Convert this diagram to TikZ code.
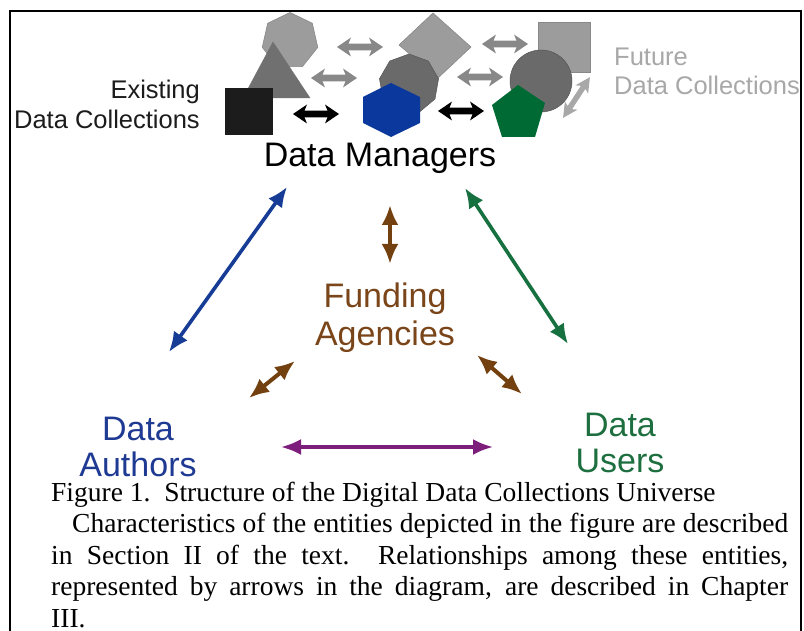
\documentclass[tikz,border=0pt]{standalone}
\usepackage{fontspec}
\setmainfont{Liberation Serif}
\newfontfamily\arialfont{Liberation Sans}
\usetikzlibrary{arrows.meta}
\definecolor{cblue}{HTML}{173C96}
\definecolor{cgreen}{HTML}{17703F}
\definecolor{cbrown}{HTML}{73400F}
\definecolor{cpurple}{HTML}{7D1E7D}
\definecolor{tblue}{HTML}{1F3A93}
\definecolor{tgreen}{HTML}{1E6F3F}
\definecolor{tbrown}{HTML}{7A4519}
\definecolor{lgray}{HTML}{9C9C9C}
\definecolor{mgray}{HTML}{707070}
\definecolor{dgray}{HTML}{6A6A6A}
\definecolor{agray}{HTML}{888888}
\definecolor{dagray}{HTML}{A8A8A8}
\definecolor{nearblack}{HTML}{1C1C1C}
\definecolor{hexblue}{HTML}{0A389C}
\definecolor{pentgreen}{HTML}{006A35}
\definecolor{futgray}{HTML}{A8A8A8}
\tikzset{
  blockarrow/.pic={\path[pic actions] (-23,0) -- (-9,-9.5) -- (-11.5,-3.4) -- (11.5,-3.4) -- (9,-9.5) -- (23,0) -- (9,9.5) -- (11.5,3.4) -- (-11.5,3.4) -- (-9,9.5) -- cycle;},
  biglabel/.style={font=\arialfont\fontsize{34}{40}\selectfont, inner sep=0pt, anchor=base},
  smalllabel/.style={font=\arialfont\fontsize{25.5}{30}\selectfont, inner sep=0pt},
  capline/.style={font=\fontsize{27.5}{31.5}\selectfont, inner sep=0pt, anchor=base west},
  relarrow/.style={line width=3.6pt, {Latex[length=20pt,width=17pt]}-{Latex[length=20pt,width=17pt]}},
}
\begin{document}
\begin{tikzpicture}[x=1pt,y=-1pt]
\useasboundingbox (0,0) rectangle (804,631);
\fill[white] (0,0) rectangle (804,631);
% frame
\draw[line width=2.3pt] (10,631) -- (10,11) -- (801,11) -- (801,631);

% shapes, left cluster
\filldraw[fill=lgray, draw=agray, line width=0.6pt, shift={(290,41)}] (90:28.5pt) \foreach \k in {1,...,6}{ -- ({90+\k*360/7}:28.5pt)} -- cycle;
\filldraw[fill=mgray, draw=mgray] (273,42) -- (310,98) -- (243,98) -- cycle;
\fill[nearblack] (225,88) rectangle (273,135);

% middle cluster
\filldraw[fill=lgray, draw=agray, line width=0.6pt] (433,13) -- (471,47) -- (438,78) -- (399,45) -- cycle;
\filldraw[fill=dgray, draw=dgray!80!black, line width=0.5pt, shift={(409,84)}] (90:30pt) \foreach \k in {1,...,8}{ -- ({90+\k*40}:30pt)} -- cycle;
\fill[hexblue] (391,83) -- (420,97) -- (420,123) -- (391,137) -- (363,123) -- (363,97) -- cycle;

% right cluster
\filldraw[fill=lgray, draw=agray, line width=0.6pt] (538,22) rectangle (590,72);
\filldraw[fill=dgray, draw=dgray!80!black, line width=0.5pt] (541,81) circle[radius=31pt];
\fill[pentgreen] (518,85) -- (545,103) -- (535,137) -- (502,137) -- (492,105) -- cycle;

% block arrows
\pic[fill=agray] (ga1) at (360,47) {blockarrow};
\pic[fill=agray] (ga2) at (334,78) {blockarrow};
\pic[fill=agray] (ga3) at (505,44) {blockarrow};
\pic[fill=agray] (ga4) at (480,77) {blockarrow};
\pic[fill=black] (ka1) at (316,114) {blockarrow};
\pic[fill=black] (ka2) at (461,111) {blockarrow};
\pic[fill=dagray, rotate=56.6, xscale=1.06, yscale=0.8] (da1) at (576.5,97.5) {blockarrow};

% labels
\node[smalllabel, anchor=base east, text=nearblack] (ex1) at (200,99) {Existing};
\node[smalllabel, anchor=base east, text=nearblack] (ex2) at (200,129) {Data Collections};
\node[smalllabel, anchor=base west, text=futgray] (fu1) at (614,66) {Future};
\node[smalllabel, anchor=base west, text=futgray] (fu2) at (614,95) {Data Collections};

\node[biglabel, text=black] (dm) at (380,167) {Data Managers};
\node[biglabel, text=tbrown] (fa1) at (385,308) {Funding};
\node[biglabel, text=tbrown] (fa2) at (385,345) {Agencies};
\node[biglabel, text=tblue] (da1t) at (138,440) {Data};
\node[biglabel, text=tblue] (da2t) at (138,476) {Authors};
\node[biglabel, text=tgreen] (du1) at (620,436) {Data};
\node[biglabel, text=tgreen] (du2) at (620,472) {Users};

% arrow end points
\coordinate (bA) at (169,352); \coordinate (bB) at (287,187);
\coordinate (gA) at (465,188); \coordinate (gB) at (568,344);
\coordinate (vA) at (390,205); \coordinate (vB) at (390,264);
\coordinate (lA) at (249,398); \coordinate (lB) at (295,361);
\coordinate (rA) at (477,355); \coordinate (rB) at (522,394);
\coordinate (pA) at (281,447); \coordinate (pB) at (493,447);

\draw[relarrow, cblue] (bA) -- (bB);
\draw[relarrow, cgreen] (gA) -- (gB);
\draw[relarrow, cbrown, line width=4pt] (vA) -- (vB);
\draw[relarrow, cbrown, line width=4pt] (lA) -- (lB);
\draw[relarrow, cbrown, line width=4pt] (rA) -- (rB);
\draw[relarrow, cpurple, line width=3.2pt, {Latex[length=20pt,width=16pt]}-{Latex[length=20pt,width=16pt]}] (pA) -- (pB);

% caption
\node[capline] (c1) at (51,501) {Figure 1.\ \ Structure of the Digital Data Collections Universe};
\node[capline] (c2) at (72,532.5) {\makebox[716pt][s]{Characteristics of the entities depicted in the figure are described}};
\node[capline] (c3) at (51,564) {\makebox[737pt][s]{in Section II of the text.\ \ Relationships among these entities,}};
\node[capline] (c4) at (51,595.5) {\makebox[737pt][s]{represented by arrows in the diagram, are described in Chapter}};
\node[capline] (c5) at (51,627) {III.};
\end{tikzpicture}
\end{document}
